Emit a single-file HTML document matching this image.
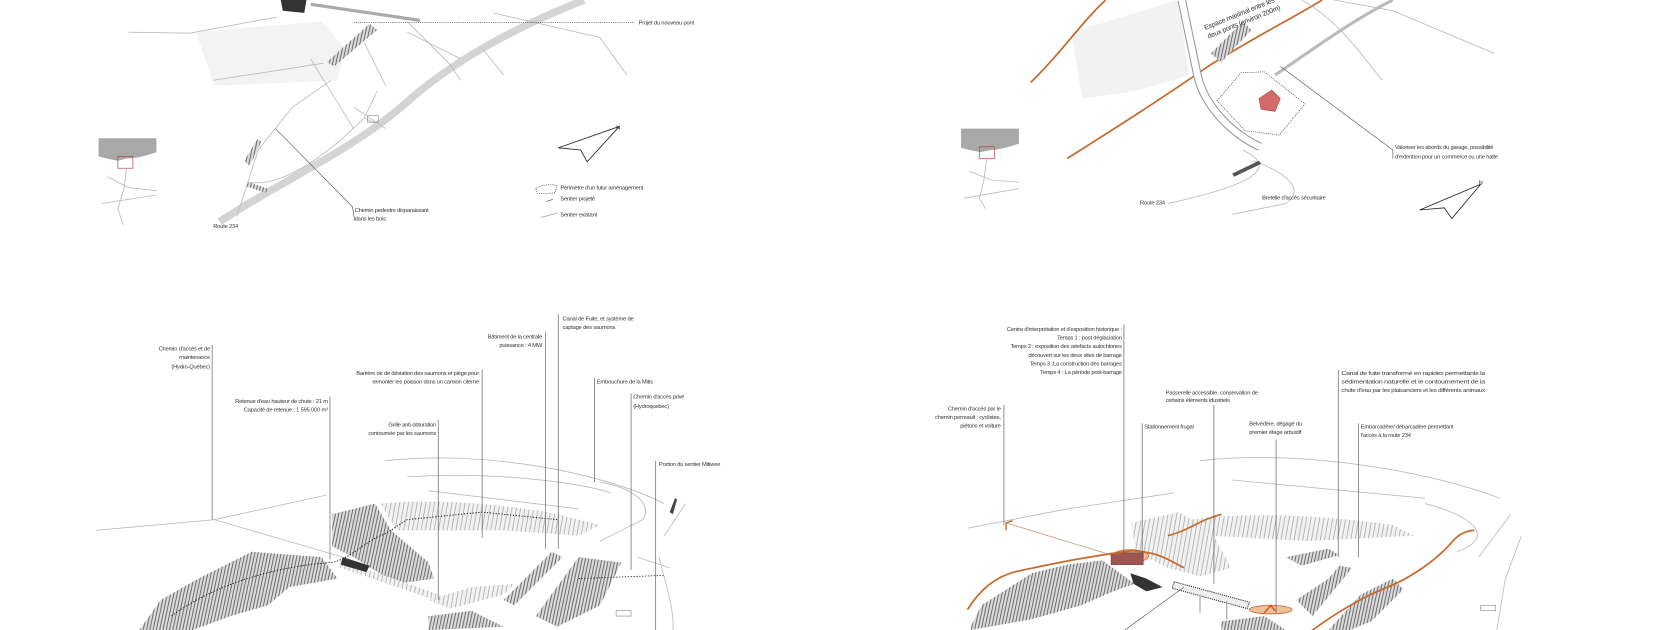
<!DOCTYPE html>
<html><head><meta charset="utf-8"><style>
html,body{margin:0;padding:0;background:#fff;}
svg{display:block}
text{font-family:"Liberation Sans Narrow","Liberation Sans",sans-serif;font-size:5.4px;letter-spacing:-0.18px;fill:#333}
.r{text-anchor:end}
.ld{stroke:#555;stroke-width:0.6;fill:none}
.lt{stroke:#bbb;stroke-width:0.8;fill:none}
.or{stroke:#c8692b;stroke-width:1.6;fill:none}
</style></head><body>
<svg width="1680" height="630" viewBox="0 0 1568 588" xmlns="http://www.w3.org/2000/svg">
<defs>
<pattern id="h" width="3" height="6" patternUnits="userSpaceOnUse" patternTransform="rotate(12)">
<rect width="3" height="6" fill="#dcdcdc"/><line x1="1" y1="0" x2="1" y2="6" stroke="#555" stroke-width="0.8"/></pattern>
<pattern id="hl" width="4" height="6" patternUnits="userSpaceOnUse" patternTransform="rotate(10)">
<rect width="4" height="6" fill="#f2f2f2"/><line x1="1" y1="0" x2="1" y2="6" stroke="#999" stroke-width="0.6"/></pattern>
</defs>
<rect width="1568" height="588" fill="#fff"/>

<!-- ===== TOP LEFT ===== -->
<path d="M183,30 L300,20 L322,45 L315,75 L200,80 Z" fill="#f3f3f3"/>
<path class="lt" d="M120,30 L177,31 L258,16"/>
<path class="lt" d="M199,75 L302,59"/>
<path d="M262,0 L286,0 L284,12 L264,10Z" fill="#333"/>
<path d="M290,4 L392,19" stroke="#aaa" stroke-width="3" fill="none"/>
<path d="M305,58 L345,22 L352,28 L312,62Z" fill="url(#h)"/>
<path d="M205,207 C260,170 330,140 380,95 C420,60 470,30 545,0" stroke="#d4d4d4" stroke-width="7" fill="none"/>
<path class="lt" d="M221,202 L241,140 L273,100 L309,75" stroke="#888"/>
<path class="lt" d="M232,170 C260,175 300,150 340,110 L352,85"/>
<path d="M228,150 L240,130 L244,132 L233,155Z" fill="url(#h)"/>
<path d="M232,170 L250,176 L248,180 L230,174Z" fill="url(#h)"/>
<path class="lt" d="M290,55 L330,120 M340,40 L360,80 M380,30 L430,55 M450,45 L470,70"/>
<path class="lt" d="M380,20 L420,60 L430,75"/>
<path class="lt" d="M460,12 L560,35 L585,70"/>
<path class="lt" d="M330,100 L360,120 M340,110 L350,115" stroke="#999"/>
<rect x="343" y="108" width="10" height="6" fill="none" stroke="#888" stroke-width="0.6"/>
<path class="ld" d="M257,120 L329,193 L331,206" />
<text x="331" y="198">Chemin pedestre disparaissant</text>
<text x="331" y="206">dans les bois</text>
<text x="199" y="213">Route 234</text>
<line x1="330" y1="21" x2="592" y2="21" stroke="#555" stroke-width="0.6" stroke-dasharray="1,1"/>
<text x="596" y="23">Projet du nouveau pont</text>
<!-- inset -->
<rect x="92" y="129" width="54" height="80" fill="#fff"/>
<path d="M92,129 H146 V142 C135,146 125,148 118,148 L110,150 L100,148 L92,146Z" fill="#a8a8a8"/>
<rect x="110" y="146" width="14" height="11" fill="none" stroke="#b33" stroke-width="0.6"/>
<path class="lt" d="M118,157 L116,175 L110,195 L115,210 M95,190 L146,182 M100,165 L120,175 L146,178"/>
<!-- north -->
<path d="M521,138 L578,118 L548,151 L542,140 Z" fill="none" stroke="#222" stroke-width="0.8"/>
<text x="575" y="121">N</text>
<!-- legend -->
<path d="M500,176 C505,172 515,172 520,173 L518,180 L502,181Z" fill="none" stroke="#333" stroke-width="0.6" stroke-dasharray="1,1"/>
<text x="523" y="177">Périmètre d'un futur aménagement</text>
<path d="M510,188 L516,186" stroke="#555" stroke-width="0.6"/>
<text x="523" y="187">Sentier projeté</text>
<path d="M505,203 L520,199" stroke="#aaa" stroke-width="0.8"/>
<text x="523" y="202">Sentier existant</text>

<!-- ===== TOP RIGHT ===== -->
<path d="M1000,30 L1100,0 L1110,70 L1060,85 L1010,92Z" fill="#f2f2f2"/>
<path class="or" d="M962,77 C990,50 1010,20 1032,0"/>
<path class="or" d="M996,148 C1040,120 1080,95 1129,61 C1170,35 1210,15 1234,0"/>
<path d="M1103,0 L1118,72 C1125,100 1150,125 1176,137" stroke="#999" stroke-width="8" fill="none"/>
<path d="M1103,0 L1118,72 C1125,100 1150,125 1176,137" stroke="#fff" stroke-width="6" fill="none"/>
<path d="M1130,50 L1160,20 L1168,28 L1140,58Z" fill="url(#h)"/>
<path d="M1215,0 C1250,20 1270,50 1290,75 M1245,0 L1300,10 L1395,50" class="lt"/>
<path d="M1190,70 C1220,50 1260,20 1300,0" stroke="#bbb" stroke-width="3" fill="none"/>
<path class="lt" d="M1170,150 C1210,165 1215,180 1200,190 L1150,200 M1160,140 C1190,155 1180,170 1090,190"/>
<path d="M1150,162 L1175,150 L1177,153 L1152,165Z" fill="#555"/>
<path d="M1136,94 L1158,68 L1180,67 L1218,97 L1194,126 L1162,122 Z" fill="none" stroke="#333" stroke-width="0.6" stroke-dasharray="1,1"/>
<path d="M1175,92 L1187,84 L1195,92 L1190,104 L1177,102Z" fill="#d46a6a" stroke="#944" stroke-width="0.5"/>
<path class="ld" d="M1195,62 L1300,140 L1300,148"/>
<text x="1302" y="139">Valoriser les abords du garage, possibilité</text>
<text x="1302" y="148">d'extention pour un commerce ou une halte</text>
<text x="1064" y="191">Route 234</text>
<text x="1178" y="186">Bretelle d'accès sécuritaire</text>
<text x="1125" y="28" transform="rotate(-22 1125 28)" style="font-size:6.5px">Espace maximal entre les</text>
<text x="1128" y="36" transform="rotate(-22 1128 36)" style="font-size:6.5px">deux ponts (environ 200m)</text>
<!-- inset -->
<path d="M897,120 H951 V134 C940,138 930,140 925,140 L915,142 L905,140 L897,138Z" fill="#a8a8a8"/>
<rect x="914" y="137" width="14" height="11" fill="none" stroke="#b33" stroke-width="0.6"/>
<path class="lt" d="M921,148 L918,170 L914,185 L920,195 M900,185 L951,176 M905,160 L925,168 L951,170"/>
<path d="M1325,196 L1382,172 L1355,204 L1348,194 Z" fill="none" stroke="#222" stroke-width="0.8"/>
<text x="1380" y="172">N</text>

<!-- ===== BOTTOM LEFT ===== -->
<path class="lt" d="M90,495 L200,485 L305,462"/>
<path class="lt" d="M200,485 L320,520"/>
<path class="lt" d="M360,430 C450,420 560,440 620,470 M380,445 C460,440 540,450 570,460 M400,458 L540,475"/>
<path class="lt" d="M560,450 C590,455 610,470 600,485 L560,505" stroke="#999"/>
<path d="M130,588 L150,560 L185,540 L235,515 L300,520 L315,540 L270,548 L250,565 L215,575 L180,588Z" fill="url(#h)"/>
<path d="M310,480 L350,470 L365,495 L400,525 L405,540 L370,545 L330,520 L310,510Z" fill="url(#h)"/>
<path d="M355,470 C400,465 470,470 520,480 L560,490 L540,500 L470,495 L400,495 L370,495Z" fill="url(#hl)"/>
<path d="M315,522 L410,555 L412,562 L318,530Z" fill="url(#hl)"/>
<path d="M320,520 L345,528 L342,534 L318,527Z" fill="#333"/>
<path d="M400,560 L440,548 L480,545 L470,555 L420,568Z" fill="url(#hl)"/>
<path d="M470,560 L515,515 L525,520 L480,565Z" fill="url(#h)"/>
<path d="M500,575 L540,520 L580,525 L560,565 L520,585Z" fill="url(#h)"/>
<path d="M400,575 L440,570 L470,585 L400,588Z" fill="url(#h)"/>
<path d="M160,575 C200,545 260,528 310,525 C330,520 340,505 360,498 L380,485 L450,478 L520,485" stroke="#222" stroke-width="0.9" stroke-dasharray="1.2,1.5" fill="none"/>
<path d="M540,540 L620,537" stroke="#222" stroke-width="0.8" stroke-dasharray="1.2,1.5" fill="none"/>
<path class="lt" d="M620,500 L640,470 M615,520 C620,540 630,570 628,588 M595,520 L625,530" stroke="#999"/>
<path d="M625,478 L630,465 L632,466 L628,480Z" fill="#444"/>
<rect x="575" y="570" width="14" height="5" fill="none" stroke="#777" stroke-width="0.5"/>
<g class="ld">
<line x1="198" y1="322" x2="198" y2="485"/>
<line x1="308" y1="370" x2="308" y2="522"/>
<line x1="409" y1="392" x2="409" y2="560"/>
<line x1="450" y1="345" x2="450" y2="502"/>
<line x1="509" y1="310" x2="509" y2="512"/>
<line x1="521" y1="293" x2="521" y2="512"/>
<line x1="555" y1="353" x2="555" y2="450"/>
<line x1="589" y1="367" x2="589" y2="532"/>
<line x1="612" y1="430" x2="612" y2="588"/>
</g>
<text class="r" x="196" y="327">Chemin d'accès et de</text>
<text class="r" x="196" y="335">maintenance</text>
<text class="r" x="196" y="344">(Hydro-Québec)</text>
<text class="r" x="306" y="376">Retenue d'eau hauteur de chute : 21 m</text>
<text class="r" x="306" y="384">Capacité de retenue : 1 595 000 m³</text>
<text class="r" x="407" y="398">Grille anti-obturation</text>
<text class="r" x="407" y="406">contournée par les saumons</text>
<text class="r" x="447" y="350">Barrière de de déviation des saumons et piège pour</text>
<text class="r" x="447" y="358">remonter les poisson dans un camion citerne</text>
<text class="r" x="506" y="316">Bâtiment de la centrale</text>
<text class="r" x="506" y="324">puissance : 4 MW</text>
<text x="525" y="299">Canal de Fuite, et système de</text>
<text x="525" y="307">captage des saumons</text>
<text x="557" y="358">Embouchure de la Mitis</text>
<text x="591" y="372">Chemin d'accès privé</text>
<text x="591" y="381">(Hydroquebec)</text>
<text x="615" y="435">Portion du sentier Mitiwee</text>

<!-- ===== BOTTOM RIGHT ===== -->
<path class="lt" d="M903,493 L996,475 L1096,460"/>
<path class="lt" d="M939,488 L1037,518"/>
<path class="lt" d="M1120,430 C1200,420 1320,435 1400,465 M1150,448 L1330,465 M1330,470 C1370,480 1400,500 1360,515" />
<path d="M906,585 L916,565 L963,535 L996,527 L1029,523 L1059,545 L1039,552 L1009,565 L963,578 L906,588Z" fill="url(#h)"/>
<path d="M1056,488 L1100,478 L1130,495 L1149,530 L1120,538 L1090,530 L1060,515Z" fill="url(#hl)"/>
<path d="M1110,485 C1160,478 1230,480 1300,490 L1320,500 L1220,505 L1130,500Z" fill="url(#hl)"/>
<path d="M1210,560 L1240,540 L1250,528 L1262,530 L1225,575Z" fill="url(#h)"/>
<path d="M1240,588 L1270,555 L1300,540 L1310,550 L1280,580 L1260,588Z" fill="url(#h)"/>
<path d="M1140,580 L1180,575 L1200,588 L1140,588Z" fill="url(#h)"/>
<path d="M1200,520 L1240,512 L1250,518 L1215,528Z" fill="url(#h)"/>
<path d="M1055,535 L1070,540 L1085,548 L1070,552 L1058,545Z" fill="#333"/>
<ellipse cx="1055" cy="519" rx="17" ry="6" fill="#eec09a" stroke="#c8692b" stroke-width="0.8"/>
<rect x="1037" y="516" width="30" height="11" fill="#a05555" stroke="#6a3333" stroke-width="0.5"/>
<path d="M1096,543 L1166,562 L1164,568 L1094,549Z" fill="#eee" stroke="#222" stroke-width="1" stroke-dasharray="1,1"/>
<line x1="1120" y1="555" x2="1120" y2="572" stroke="#999"/><line x1="1145" y1="561" x2="1145" y2="578" stroke="#999"/>
<ellipse cx="1186" cy="569" rx="20" ry="4" fill="#eec09a" stroke="#c8692b" stroke-width="0.8"/>
<path d="M1180,572 L1186,565 L1190,570" stroke="#d04010" stroke-width="1.2" fill="none"/>
<path class="or" d="M903,569 C915,550 929,538 950,533 C979,527 1010,520 1056,514"/>
<path class="or" d="M1056,514 C1080,515 1090,522 1105,530" stroke-width="0.9"/>
<path class="or" d="M1216,595 C1235,580 1262,562 1290,550 C1312,542 1339,525 1356,505 C1362,498 1370,495 1376,495"/>
<path class="or" d="M1090,500 C1110,495 1120,485 1140,480" stroke-width="0.7"/>
<path d="M939,495 L939,488 L945,486" stroke="#c8692b" stroke-width="1.3" fill="none"/>
<path d="M939,488 L1037,518" stroke="#c8692b" stroke-width="0.6" stroke-dasharray="1,1.5"/>
<path class="lt" d="M1380,520 L1410,480 M1395,600 L1405,540 L1420,500" stroke="#aaa"/>
<rect x="1382" y="565" width="14" height="5" fill="none" stroke="#777" stroke-width="0.5"/>
<g class="ld">
<line x1="1049" y1="303" x2="1049" y2="515"/>
<line x1="937" y1="378" x2="937" y2="490"/>
<line x1="1133" y1="378" x2="1133" y2="545"/>
<line x1="1066" y1="395" x2="1066" y2="520"/>
<line x1="1191" y1="410" x2="1191" y2="572"/>
<line x1="1249" y1="345" x2="1249" y2="520"/>
<line x1="1268" y1="395" x2="1268" y2="520"/>
<line x1="1105" y1="548" x2="1050" y2="588"/>
</g>
<text class="r" x="1047" y="309">Centre d'interprétation et d'exposition historique :</text>
<text class="r" x="1047" y="317">Temps 1 : post déglaciation</text>
<text class="r" x="1047" y="325">Temps 2 : exposition des artefacts autochtones</text>
<text class="r" x="1047" y="333">découvert sur les deux sites de barrage</text>
<text class="r" x="1047" y="341">Temps 3 :La construction des barrages</text>
<text class="r" x="1047" y="349">Temps 4 : La période post-barrage</text>
<text class="r" x="934" y="383">Chemin d'accès par le</text>
<text class="r" x="934" y="391">chemin perreault : cyclistes,</text>
<text class="r" x="934" y="399">piétons et voiture</text>
<text x="1088" y="368">Passerelle accessible, conservation de</text>
<text x="1088" y="375">certains éléments idustriels</text>
<text x="1068" y="400">Stationnement frugal</text>
<text x="1166" y="397">Belvédère, dégagé du</text>
<text x="1166" y="405">premier étage arbustif</text>
<text x="1252" y="350" textLength="134" lengthAdjust="spacingAndGlyphs">Canal de fuite transformé en rapides permettants la</text>
<text x="1252" y="358" textLength="134" lengthAdjust="spacingAndGlyphs">sédimentation naturelle et le contournement de la</text>
<text x="1252" y="366" textLength="134" lengthAdjust="spacingAndGlyphs">chute d'eau par les plaisanciers et les différents animaux</text>
<text x="1270" y="400">Embarcadère/ débarcadère permettant</text>
<text x="1270" y="408">l'accès à la route 234</text>
</svg>
</body></html>
